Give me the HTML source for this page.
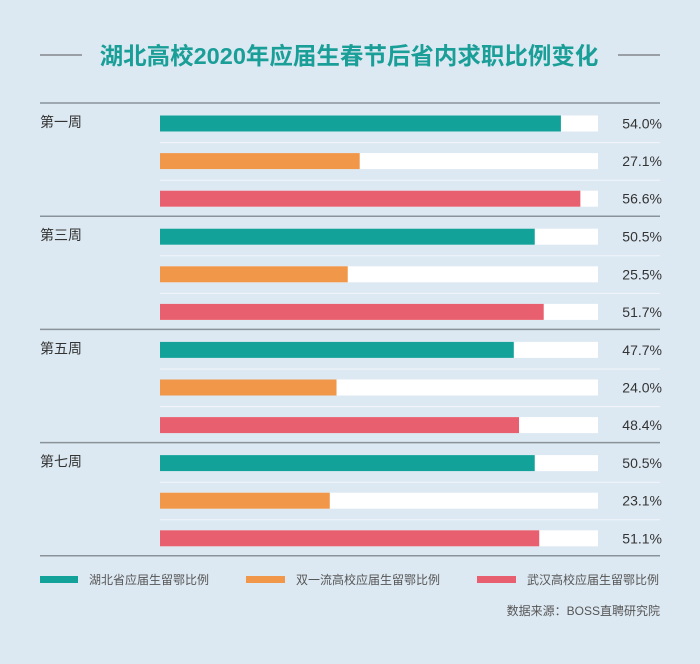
<!DOCTYPE html>
<html><head><meta charset="utf-8"><style>
body{margin:0;width:700px;height:659px;background:#dde9f2;font-family:"Liberation Sans","Noto Sans CJK SC",sans-serif;overflow:hidden}
svg text{font-family:"Liberation Sans","Noto Sans CJK SC",sans-serif}
</style></head><body>
<svg id="c" width="700" height="659">
<line x1="40" y1="55" x2="82" y2="55" stroke="#555" stroke-width="1"/>
<line x1="618" y1="55" x2="660" y2="55" stroke="#555" stroke-width="1"/>
<text x="349" y="64" text-anchor="middle" font-size="23.5" font-weight="bold" fill="#1a9e98">湖北高校2020年应届生春节后省内求职比例变化</text>
<g id="bars"></g>
<g>
<rect x="40" y="576" width="38" height="7" fill="#13a29a"/>
<text x="89" y="584" font-size="12" fill="#555">湖北省应届生留鄂比例</text>
<rect x="246" y="576" width="39" height="7" fill="#f0974a"/>
<text x="296" y="584" font-size="12" fill="#555">双一流高校应届生留鄂比例</text>
<rect x="477" y="576" width="39" height="7" fill="#e8606f"/>
<text x="527" y="584" font-size="12" fill="#555">武汉高校应届生留鄂比例</text>
</g>
<text x="660" y="615" text-anchor="end" font-size="12" fill="#555">数据来源：BOSS直聘研究院</text>
</svg>
<script>
const weeks=["第一周","第三周","第五周","第七周"];
const hubei=[54.0,50.5,47.7,50.5];
const doubleFirst=[27.1,25.5,24.0,23.1];
const wuhan=[56.6,51.7,48.4,51.1];
const series=[hubei,doubleFirst,wuhan];
const colors=["#13a29a","#f0974a","#e8606f"];
const sNames=["hubei","double-first","wuhan"];
const NS="http://www.w3.org/2000/svg";
const g=document.getElementById("bars");
const x=v=>157+v*7.48;
function el(t,a){const e=document.createElementNS(NS,t);for(const k in a)e.setAttribute(k,a[k]);g.appendChild(e);return e;}
const top0=103,gh=113.2;
for(let i=0;i<=weeks.length;i++){
  const l=el("line",{x1:40,x2:660,y1:top0+i*gh,y2:top0+i*gh,stroke:"#8a9299","stroke-width":1.5});
  
  
}
weeks.forEach((w,i)=>{
  const gy=top0+i*gh;
  const t=el("text",{x:40,y:gy+24,"font-size":14,fill:"#333"});t.textContent=w;
  
  
  for(let k=1;k<3;k++){
    const sl=el("line",{x1:160,x2:660,y1:gy+2+k*37.6,y2:gy+2+k*37.6,stroke:"#f2f6f9","stroke-width":1});
    
    
  }
  series.forEach((s,j)=>{
    const by=gy+12.5+j*37.6;
    const tr=el("rect",{x:160,y:by,width:438,height:16,fill:"#ffffff"});
    
    
    const b=el("rect",{x:160,y:by,width:x(s[i])-160,height:16,fill:colors[j]});
    
    
    const v=el("text",{x:662,y:by+13,"text-anchor":"end","font-size":14,fill:"#333"});
    v.textContent=s[i].toFixed(1)+"%";
    
    
  });
});
</script>
</body></html>
